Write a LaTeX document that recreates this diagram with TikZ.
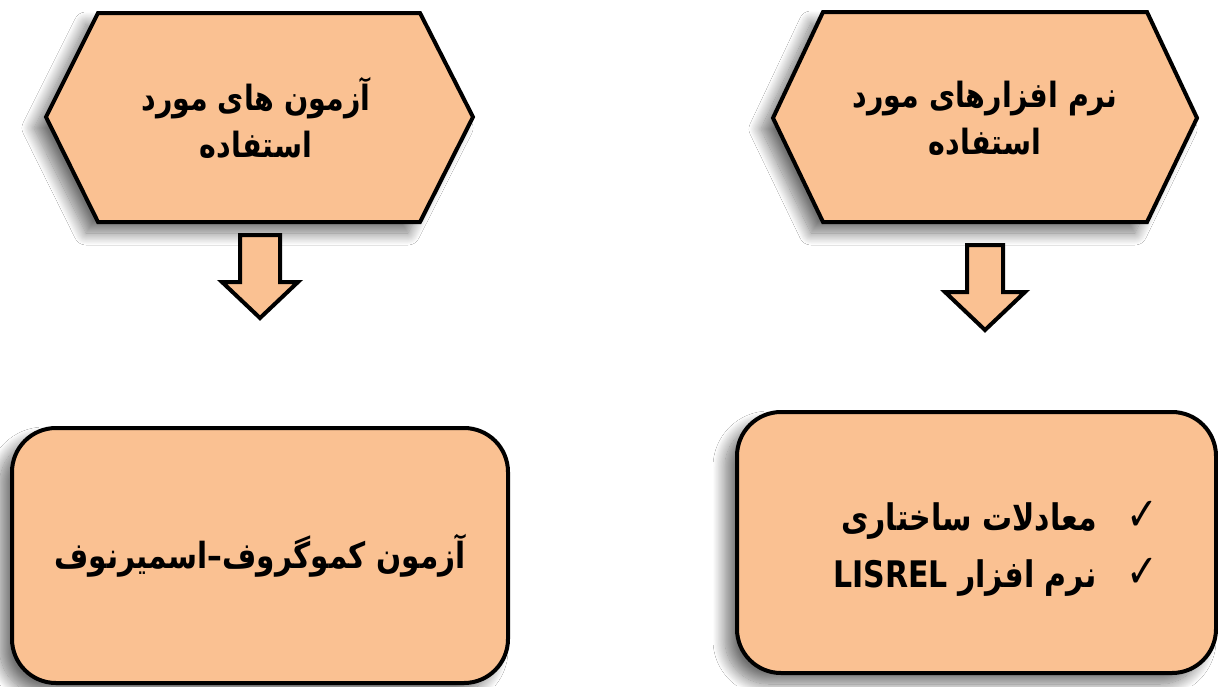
\documentclass[tikz,border=0pt]{standalone}
\usepackage{fontspec}
\usetikzlibrary{shadows.blur}
\TeXXeTstate=1
\newfontfamily\fa[Script=Arabic]{DejaVu Sans}
\definecolor{boxfill}{RGB}{250,193,146}
\newcommand{\tall}[1]{\scalebox{1}[1.22]{#1}}
\newcommand{\chk}{{\fontsize{38}{38}\selectfont ✓}}
\tikzset{
  softshadow/.style={blur shadow={shadow xshift=-12pt, shadow yshift=-11pt, shadow blur steps=20, shadow blur radius=12pt, shadow opacity=55}},
  hexbox/.style={draw=black, line width=4pt, fill=boxfill, line join=miter, softshadow},
  roundbox/.style={draw=black, line width=4pt, fill=boxfill, rounded corners=44pt, softshadow, inner sep=0pt},
  txt/.style={font=\fa\bfseries\fontsize{28.5}{47}\selectfont, align=center},
  blockarrow/.style={draw=black, line width=4pt, fill=boxfill, line join=miter}
}
\begin{document}
\begin{tikzpicture}[x=1pt,y=-1pt]
\useasboundingbox (0,0) rectangle (1218,686);
\fill[white] (0,0) rectangle (1218,686);
% hexagons
\path[hexbox] (98,13) -- (420,13) -- (473,117) -- (420,222) -- (98,222) -- (46,117) -- cycle;
\path[hexbox] (823,12) -- (1147,12) -- (1197,118) -- (1147,222) -- (823,222) -- (773,118) -- cycle;
\node[txt] (hexL) at (256,118) {\tall{\beginR آزمون های مورد\endR}\\\tall{\beginR استفاده\endR}};
\node[txt] (hexR) at (985,118) {\tall{\beginR نرم افزارهای مورد\endR}\\\tall{\beginR استفاده\endR}};
% block arrows
\draw[blockarrow] (240,235) -- (280,235) -- (280,282) -- (298,282) -- (260,318) -- (222,282) -- (240,282) -- cycle;
\draw[blockarrow] (967,245) -- (1003,245) -- (1003,292) -- (1025,292) -- (985,330) -- (945,292) -- (967,292) -- cycle;
% rounded boxes
\node[roundbox, minimum width=496pt, minimum height=255pt, txt, font=\fa\bfseries\fontsize{29.5}{47}\selectfont] (boxL) at (260,555.5) {\tall{\beginR آزمون کموگروف–اسمیرنوف\endR}};
\node[roundbox, minimum width=479pt, minimum height=261pt] (boxR) at (976.5,542.5) {};
\node[txt, align=right, font=\fa\bfseries\fontsize{30}{57}\selectfont] (listR) at (996,549) {\tall{\beginR \chk\hspace{30pt}معادلات ساختاری\endR}\\\tall{\beginR \chk\hspace{30pt}نرم افزار \beginL LISREL\endL\endR}};
\end{tikzpicture}
\end{document}
